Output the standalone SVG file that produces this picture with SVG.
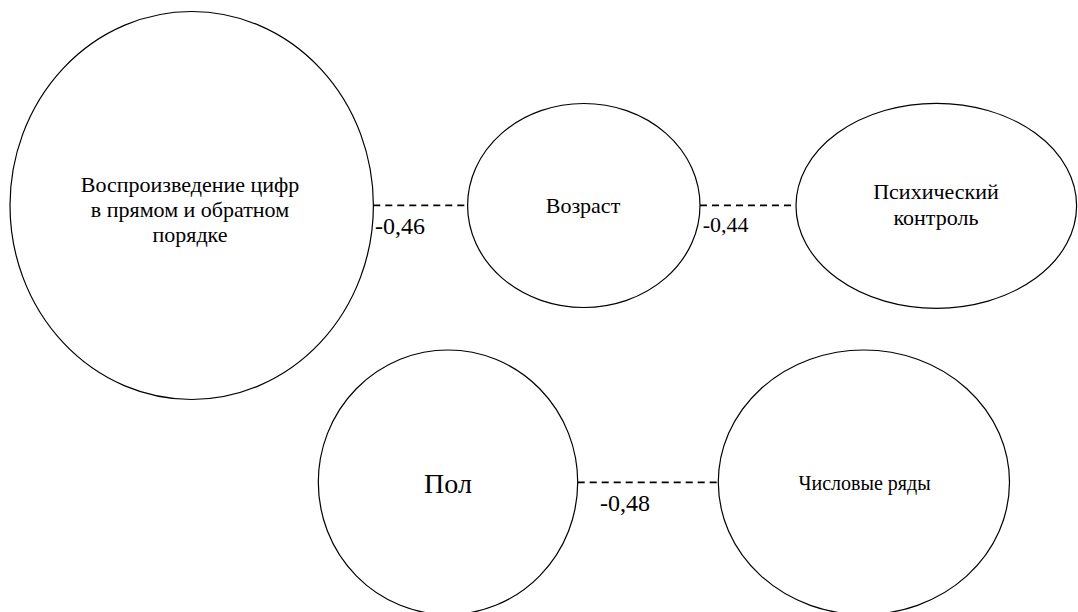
<svg xmlns="http://www.w3.org/2000/svg" width="1078" height="612" viewBox="0 0 1078 612">
<style>
.node{fill:#fff;stroke:#000;stroke-width:1.2}
text{fill:#000;font-family:'Liberation Serif','Times New Roman',serif}
.t{text-anchor:middle}
.conn{stroke:#000;stroke-width:1.8;stroke-dasharray:7 5;fill:none}
</style>
<rect width="1078" height="612" fill="#fff"/>
<g id="n-vosproizvedenie">
<ellipse class="node" cx="191.7" cy="205.5" rx="181.7" ry="194"/>
<text class="t" font-size="22" x="190" y="191.7">Воспроизведение цифр</text>
<text class="t" font-size="22" x="190" y="217">в прямом и обратном</text>
<text class="t" font-size="22" x="190" y="242.3">порядке</text>
</g>
<g id="n-vozrast">
<ellipse class="node" cx="583.8" cy="205.5" rx="116.2" ry="102"/>
<text class="t" font-size="22" x="583" y="213.3">Возраст</text>
</g>
<g id="n-psych">
<ellipse class="node" cx="936.3" cy="205.8" rx="140.3" ry="102.5"/>
<text class="t" font-size="22" x="936" y="199.3">Психический</text>
<text class="t" font-size="22" x="936" y="225">контроль</text>
</g>
<g id="n-pol">
<ellipse class="node" cx="448" cy="482.3" rx="129.7" ry="132.3"/>
<text class="t" font-size="28" x="448" y="492.7">Пол</text>
</g>
<g id="n-chislovye">
<ellipse class="node" cx="863.9" cy="482.3" rx="145.6" ry="132.3"/>
<text class="t" font-size="20" x="864.6" y="490">Числовые ряды</text>
</g>
<g id="connectors">
<line class="conn" x1="373.3" y1="205.3" x2="467.7" y2="205.3"/>
<line class="conn" x1="700" y1="205.3" x2="796" y2="205.3"/>
<line class="conn" x1="577.7" y1="482.3" x2="718.3" y2="482.3"/>
<text font-size="24" x="375" y="234">-0,46</text>
<text font-size="22" x="702.7" y="231.7">-0,44</text>
<text font-size="24" x="600" y="510.7">-0,48</text>
</g>
</svg>
